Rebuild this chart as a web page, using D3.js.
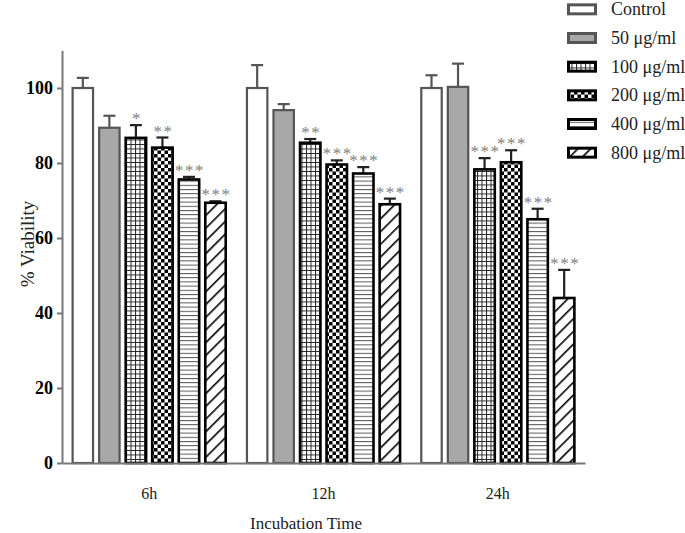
<!DOCTYPE html>
<html>
<head>
<meta charset="utf-8">
<script src="https://cdn.jsdelivr.net/npm/d3@7"></script>
<style>
  body { margin: 0; background: #fff; }
  svg { display: block; font-family: "Liberation Serif", "Times New Roman", serif; }
</style>
</head>
<body>
<svg id="chart" width="685" height="533"></svg>
<script>
// ---- data ----
const groups = ["6h", "12h", "24h"];
const series = ["Control", "50 μg/ml", "100 μg/ml", "200 μg/ml", "400 μg/ml", "800 μg/ml"];
const means = [
  [100, 89.4, 86.7, 84.1, 75.6, 69.4],
  [100, 94.1, 85.4, 79.6, 77.2, 69.0],
  [100, 100.3, 78.3, 80.2, 65.0, 44.0]
];
const errors = [
  [2.7, 3.2, 3.4, 2.7, 0.7, 0.4],
  [6.1, 1.6, 1.0, 1.1, 1.7, 1.5],
  [3.4, 6.2, 3.0, 3.2, 2.8, 7.5]
];
const stars = [
  ["", "", "*", "**", "***", "***"],
  ["", "", "**", "***", "***", "***"],
  ["", "", "***", "***", "***", "***"]
];
const yTicks = [0, 20, 40, 60, 80, 100];

// ---- setup ----
const svg = d3.select("#chart");
const defs = svg.append("defs");

// patterns
const pGrid = defs.append("pattern").attr("id", "pGrid").attr("patternUnits", "userSpaceOnUse")
  .attr("width", 4.5).attr("height", 4.5);
pGrid.append("rect").attr("width", 4.5).attr("height", 4.5).attr("fill", "#fff");
pGrid.append("path").attr("d", "M0,0.5H4.5M0.5,0V4.5").attr("stroke", "#222").attr("stroke-width", 1);

const pCheck = defs.append("pattern").attr("id", "pCheck").attr("patternUnits", "userSpaceOnUse")
  .attr("width", 7).attr("height", 7);
pCheck.append("rect").attr("width", 7).attr("height", 7).attr("fill", "#fff");
pCheck.append("rect").attr("width", 3.5).attr("height", 3.5).attr("fill", "#000");
pCheck.append("rect").attr("x", 3.5).attr("y", 3.5).attr("width", 3.5).attr("height", 3.5).attr("fill", "#000");

const pHoriz = defs.append("pattern").attr("id", "pHoriz").attr("patternUnits", "userSpaceOnUse")
  .attr("width", 4.2).attr("height", 4.2);
pHoriz.append("rect").attr("width", 4.2).attr("height", 4.2).attr("fill", "#fff");
pHoriz.append("path").attr("d", "M0,0.5H4.2").attr("stroke", "#555").attr("stroke-width", 1);

const pDiag = defs.append("pattern").attr("id", "pDiag").attr("patternUnits", "userSpaceOnUse")
  .attr("width", 9).attr("height", 9).attr("patternTransform", "rotate(45)");
pDiag.append("rect").attr("width", 9).attr("height", 9).attr("fill", "#fff");
pDiag.append("path").attr("d", "M0,0V9").attr("stroke", "#000").attr("stroke-width", 3.2);

const fills = ["#fff", "#a8a8a8", "url(#pGrid)", "url(#pCheck)", "url(#pHoriz)", "url(#pDiag)"];
const strokes = ["#555", "#555", "#000", "#000", "#000", "#000"];

// scales
const x0 = d3.scaleBand().domain(groups).range([62, 585]).padding(0);
const x1 = d3.scaleBand().domain(series).range([0, x0.bandwidth()]).paddingInner(0.23).paddingOuter(0.4);
const y = d3.scaleLinear().domain([0, 110]).range([463, 50.5]);

// bars
const data = [];
groups.forEach((g, gi) => series.forEach((s, si) => {
  data.push({ g, s, si, v: means[gi][si], e: errors[gi][si], star: stars[gi][si] });
}));

const gBars = svg.append("g");
const bw = x1.bandwidth();

// error bars (upper only)
gBars.selectAll("g.err").data(data).join("g").attr("class", "err").each(function(d) {
  const cx = x0(d.g) + x1(d.s) + bw / 2;
  const g = d3.select(this);
  const col = d.si < 2 ? "#555" : "#222";
  g.append("line").attr("x1", cx).attr("x2", cx).attr("y1", y(d.v)).attr("y2", y(d.v + d.e))
    .attr("stroke", col).attr("stroke-width", 2.2);
  g.append("line").attr("x1", cx - 6).attr("x2", cx + 6).attr("y1", y(d.v + d.e)).attr("y2", y(d.v + d.e))
    .attr("stroke", col).attr("stroke-width", 2.2);
});

gBars.selectAll("rect.bar").data(data).join("rect").attr("class", "bar")
  .attr("x", d => x0(d.g) + x1(d.s))
  .attr("y", d => y(d.v))
  .attr("width", bw)
  .attr("height", d => y(0) - y(d.v))
  .attr("fill", d => fills[d.si])
  .attr("stroke", d => strokes[d.si])
  .attr("stroke-width", d => d.si < 2 ? 2.2 : 2.6);

// significance stars
gBars.selectAll("text.star").data(data.filter(d => d.star)).join("text").attr("class", "star")
  .attr("x", d => x0(d.g) + x1(d.s) + bw / 2 + 1)
  .attr("y", d => y(d.v + d.e) - 1)
  .attr("text-anchor", "middle")
  .attr("font-size", 17)
  .attr("letter-spacing", 1.5)
  .attr("fill", "#808080")
  .text(d => d.star);

// y axis
const yAxis = d3.axisLeft(y).tickValues(yTicks).tickSize(5).tickSizeOuter(0).tickPadding(4);
const gy = svg.append("g").attr("transform", "translate(62,0)").call(yAxis);
gy.select(".domain").attr("stroke", "#777").attr("stroke-width", 2);
gy.selectAll(".tick line").attr("stroke", "#777").attr("stroke-width", 2);
gy.selectAll(".tick text").attr("font-family", "Liberation Serif, serif").attr("font-weight", "bold")
  .attr("font-size", 18).attr("fill", "#000");

// x axis
const xAxis = d3.axisBottom(x0).tickSize(0).tickPadding(25).tickSizeOuter(0);
const gx = svg.append("g").attr("transform", "translate(0,463)").call(xAxis);
gx.select(".domain").attr("stroke", "#777").attr("stroke-width", 2);
gx.selectAll(".tick text").attr("font-family", "Liberation Serif, serif").attr("font-size", 16).attr("fill", "#222");

// axis titles
svg.append("text").attr("x", 306).attr("y", 529).attr("text-anchor", "middle")
  .attr("font-size", 17).attr("fill", "#222").text("Incubation Time");
svg.append("text").attr("transform", "translate(34,244) rotate(-90)").attr("text-anchor", "middle")
  .attr("font-size", 19).attr("fill", "#222").text("% Viability");

// legend
const legend = svg.append("g");
const ly = d3.scaleBand().domain(series).range([-5, 167]);
series.forEach((s, i) => {
  const cy = ly(s) + ly.bandwidth() / 2;
  legend.append("rect").attr("x", 568.5).attr("y", cy - 4.5).attr("width", 27).attr("height", 9)
    .attr("fill", fills[i]).attr("stroke", strokes[i]).attr("stroke-width", 3);
  legend.append("text").attr("x", 611).attr("y", cy + 6).attr("font-size", 18).attr("fill", "#222").text(s);
});
</script>
</body>
</html>
